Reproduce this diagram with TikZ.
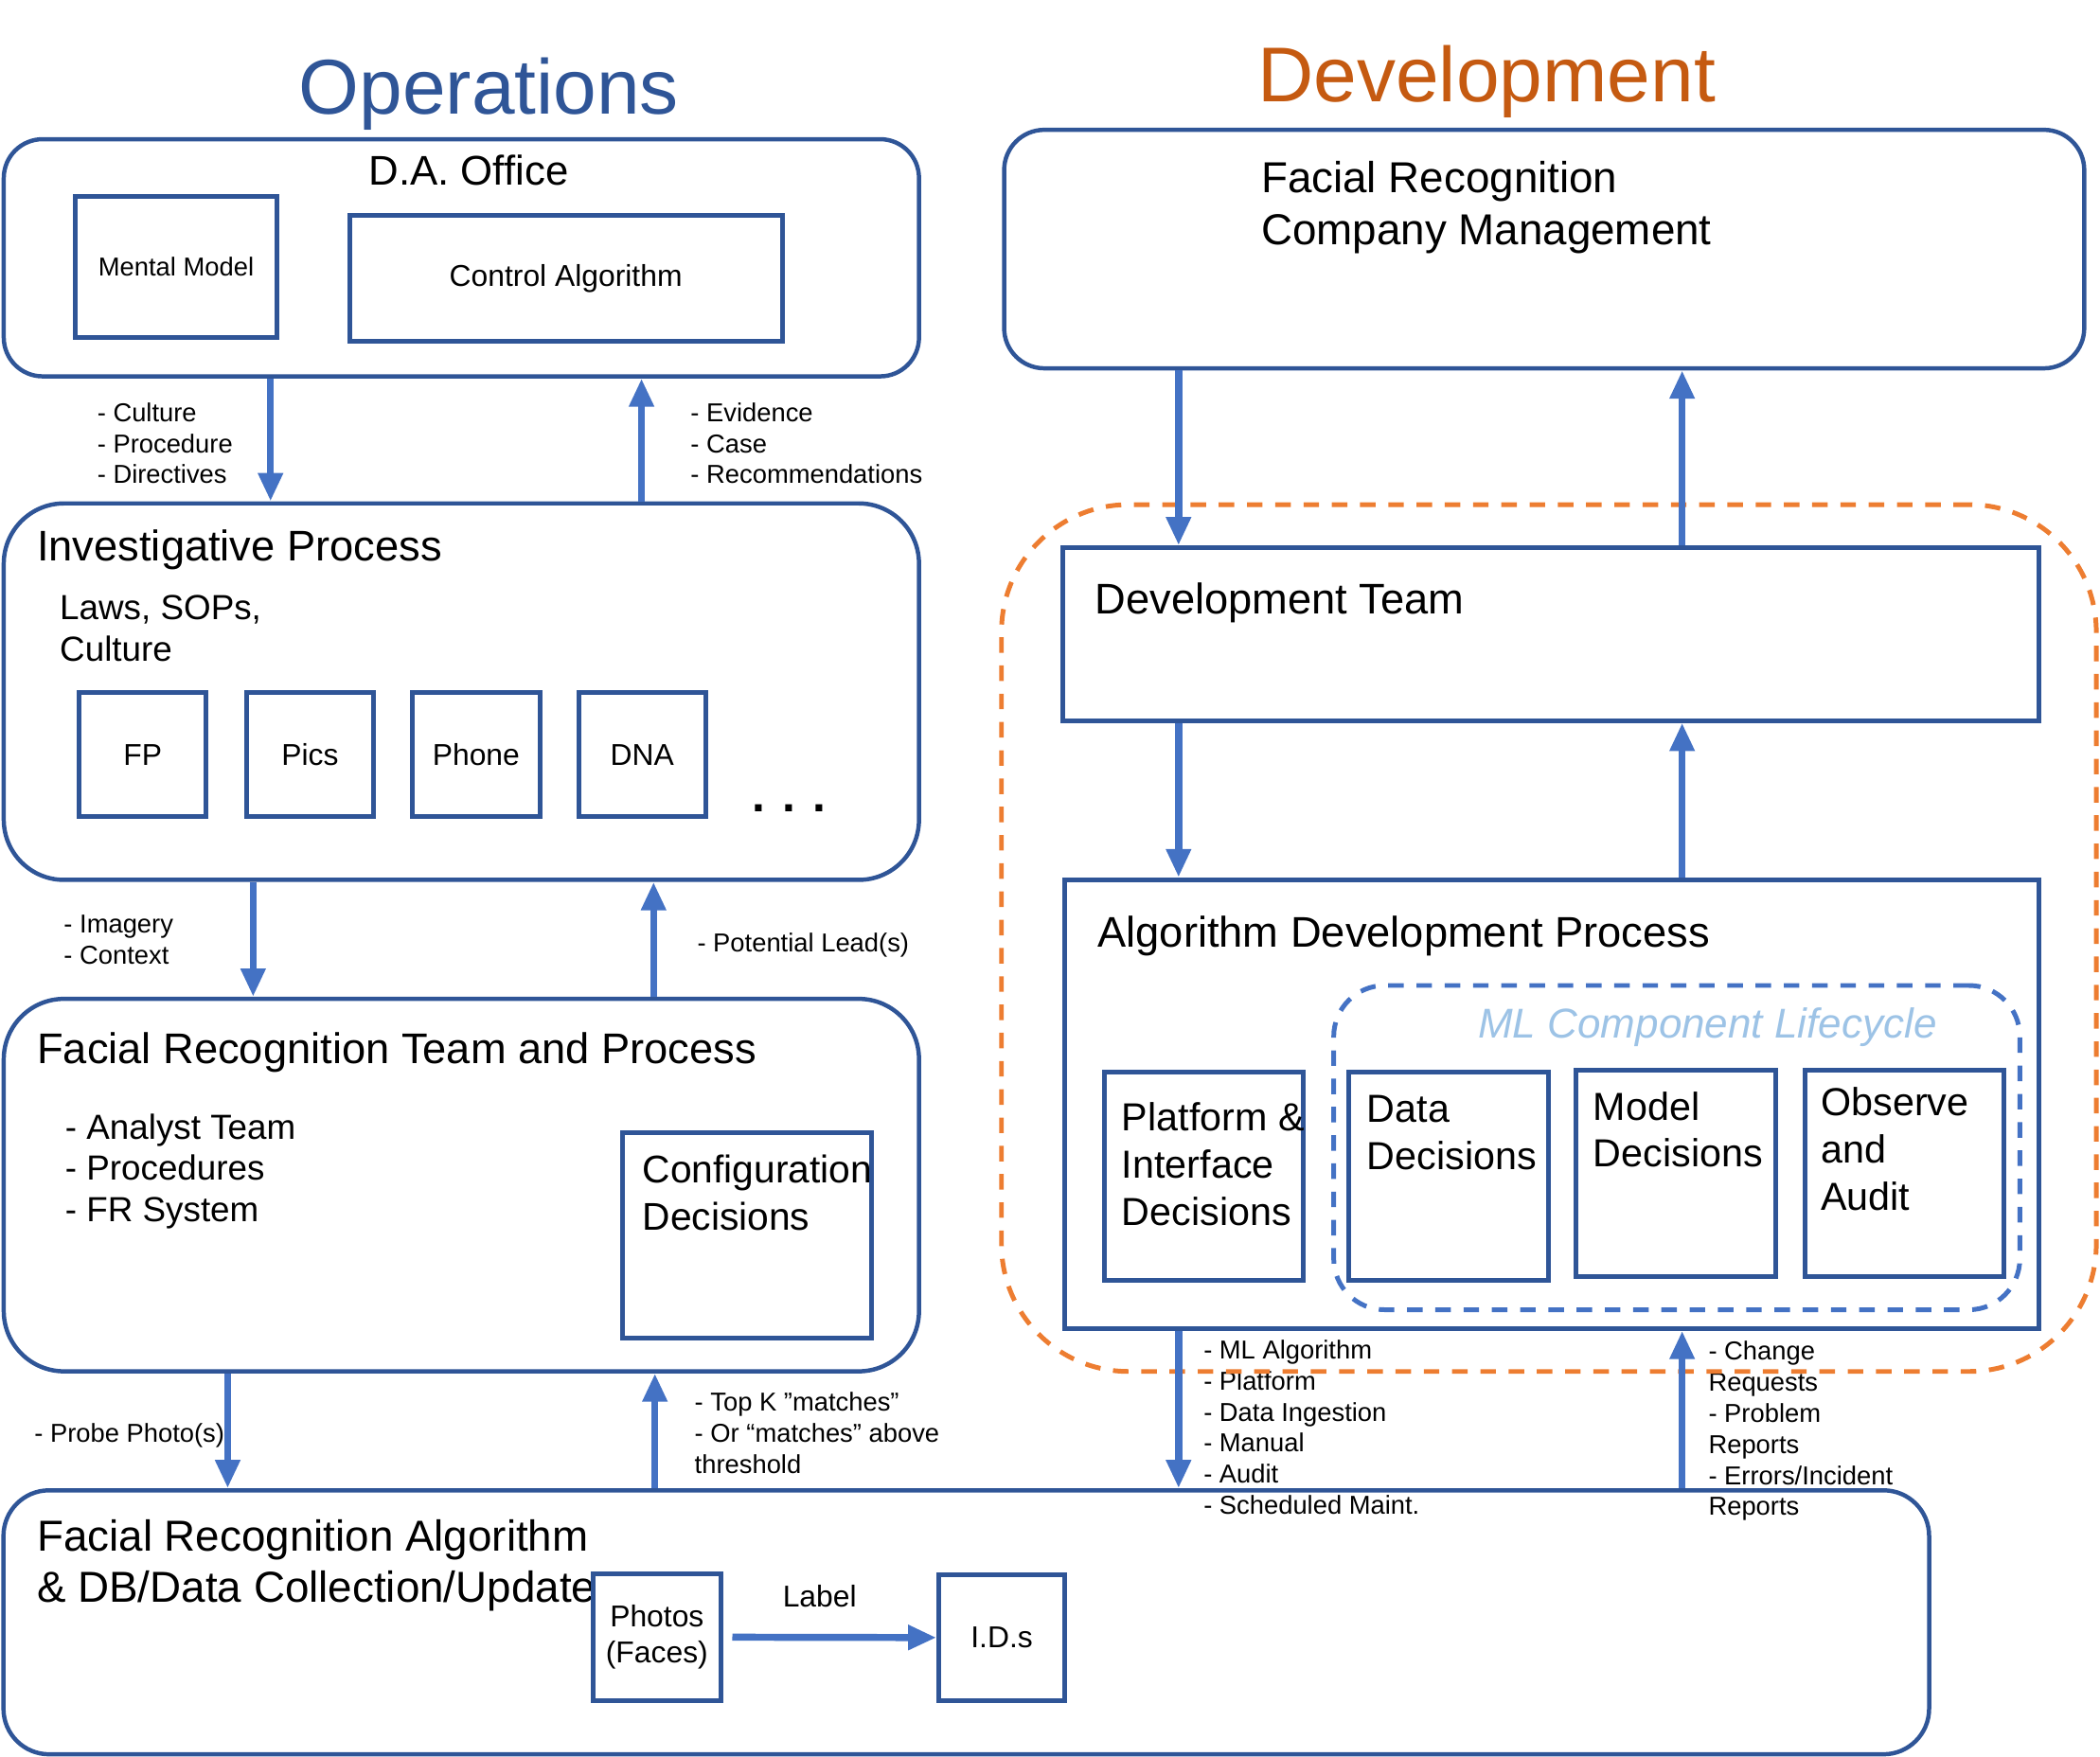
\documentclass[tikz,border=0pt]{standalone}
\usepackage{fontspec}
\setmainfont{Liberation Sans}
\usetikzlibrary{arrows.meta}

\definecolor{boxblue}{HTML}{2F5597}
\definecolor{arrowblue}{HTML}{4472C4}
\definecolor{devorange}{HTML}{C55A11}
\definecolor{dashorange}{HTML}{ED7D31}
\definecolor{lightblue}{HTML}{9DC3E6}

\begin{document}
\begin{tikzpicture}[x=0.01cm, y=-0.01cm,
  panel/.style={draw=boxblue, line width=0.9pt, rounded corners=#1},
  cell/.style={draw=boxblue, line width=1pt, inner sep=0},
  zone/.style={line width=1pt, dash pattern=on 3.3pt off 2.7pt},
  flow/.style={arrowblue, line width=1.5pt, -{Triangle[width=5pt,length=6pt]}},
  title/.style={anchor=base, inner sep=0, font=\fontsize{16.5}{20}\selectfont},
  head/.style={inner sep=0, font=\fontsize{9.1}{10.9}\selectfont, align=left},
  sub/.style={inner sep=0, font=\fontsize{7.4}{8.8}\selectfont, align=left},
  note/.style={inner sep=0, font=\fontsize{5.5}{6.6}\selectfont, align=left},
  tag/.style={inner sep=0, font=\fontsize{6.4}{7.7}\selectfont, align=center},
  lc/.style={inner sep=0, font=\fontsize{8.3}{10}\selectfont, align=left},
]
\useasboundingbox (0,0) rectangle (1568,1312);

\node[title, text=boxblue] (ops) at (365,85) {Operations};
\node[title, text=devorange] (devt) at (1110,76) {Development};

% operations side
\node[panel=0.29cm, minimum width=6.83cm, minimum height=1.77cm] (da) at (344.5,192.5) {};
\node[anchor=base, inner sep=0, font=\fontsize{8.8}{10.5}\selectfont] (daT) at (350,138) {D.A. Office};
\node[cell, minimum width=1.51cm, minimum height=1.05cm, font=\fontsize{5.5}{6.6}\selectfont] (mm) at (131.5,199.5) {Mental Model};
\node[cell, minimum width=3.23cm, minimum height=0.94cm, tag] (ca) at (422.5,208) {Control Algorithm};

\node[panel=0.45cm, minimum width=6.83cm, minimum height=2.81cm] (inv) at (344.5,516.5) {};
\node[head, anchor=base west] (invT) at (27,419) {Investigative Process};
\node[sub, anchor=north west] (laws) at (44,444) {Laws, SOPs,\\Culture};
\node[cell, minimum width=0.95cm, minimum height=0.93cm, tag] (fp) at (106.5,563.5) {FP};
\node[cell, minimum width=0.95cm, minimum height=0.93cm, tag] (pics) at (231.5,563.5) {Pics};
\node[cell, minimum width=0.95cm, minimum height=0.93cm, tag] (phone) at (355.5,563.5) {Phone};
\node[cell, minimum width=0.95cm, minimum height=0.93cm, tag] (dna) at (479.5,563.5) {DNA};
\node[anchor=base, inner sep=0, font=\fontsize{10}{12}\selectfont\bfseries] (more) at (589,606) {.\hspace{3.6pt}.\hspace{3.6pt}.};

\node[panel=0.45cm, minimum width=6.83cm, minimum height=2.78cm] (frt) at (344.5,885) {};
\node[head, anchor=base west] (frtT) at (27,794.5) {Facial Recognition Team and Process};
\node[sub, anchor=north west] (team) at (48,831) {- Analyst Team\\- Procedures\\- FR System};
\node[cell, minimum width=1.86cm, minimum height=1.53cm] (cfg) at (558,922.5) {};
\node[inner sep=0, font=\fontsize{8.2}{10}\selectfont, align=left, anchor=north west] (cfgT) at (479,862) {Configuration\\Decisions};

\node[panel=0.34cm, minimum width=14.37cm, minimum height=1.97cm] (fra) at (721.5,1211.5) {};
\node[head, anchor=north west, font=\fontsize{9.2}{10.8}\selectfont] (fraT) at (27,1134.5) {Facial Recognition Algorithm\\\& DB/Data Collection/Update};
\node[cell, minimum width=0.95cm, minimum height=0.95cm, tag] (ph) at (490.5,1222.5) {Photos\\(Faces)};
\node[cell, minimum width=0.94cm, minimum height=0.94cm, tag] (ids) at (748,1223) {I.D.s};
\node[tag, anchor=base] (lbl) at (612,1200) {Label};

\node[note, anchor=north west] (dirs) at (72,300) {- Culture\\- Procedure\\- Directives};
\node[note, anchor=north west] (evid) at (515,300) {- Evidence\\- Case\\- Recommendations};
\node[note, anchor=north west] (img) at (47,683) {- Imagery\\- Context};
\node[note, anchor=base west] (lead) at (520,711) {- Potential Lead(s)};
\node[note, anchor=base west] (probe) at (25,1077) {- Probe Photo(s)};
\node[note, anchor=north west] (topk) at (518,1039) {- Top K ”matches”\\- Or “matches” above\\threshold};

% development side
\node[panel=0.3cm, minimum width=8.06cm, minimum height=1.78cm] (mgmt) at (1153,186) {};
\node[head, anchor=north west, font=\fontsize{9.2}{11.1}\selectfont] (mgmtT) at (941,119.5) {Facial Recognition\\Company Management};

\node[cell, minimum width=7.28cm, minimum height=1.29cm] (devteam) at (1158,473.5) {};
\node[head, anchor=base west] (devteamT) at (817,458.5) {Development Team};

\node[cell, minimum width=7.27cm, minimum height=3.35cm] (adp) at (1158.5,824.5) {};
\node[head, anchor=base west] (adpT) at (819,707.5) {Algorithm Development Process};
\node[draw=arrowblue, zone, rounded corners=0.38cm, minimum width=5.12cm, minimum height=2.42cm] (mlc) at (1252,857) {};
\node[anchor=base, inner sep=0, font=\fontsize{8.85}{10.6}\selectfont\itshape, text=lightblue] (mlcT) at (1275,775) {ML Component Lifecycle};

\node[cell, minimum width=1.48cm, minimum height=1.55cm] (plat) at (899,878.5) {};
\node[lc, anchor=north west] (platT) at (837,822.6) {Platform \&\\Interface\\Decisions};
\node[cell, minimum width=1.49cm, minimum height=1.55cm] (data) at (1081.5,878.5) {};
\node[lc, anchor=north west] (dataT) at (1020,817.6) {Data\\Decisions};
\node[cell, minimum width=1.49cm, minimum height=1.54cm] (model) at (1251.5,876) {};
\node[lc, anchor=north west] (modelT) at (1189,814.6) {Model\\Decisions};
\node[cell, minimum width=1.48cm, minimum height=1.54cm] (obs) at (1422,876) {};
\node[lc, anchor=north west] (obsT) at (1359,811.6) {Observe\\and\\Audit};

\node[note, anchor=north west] (rel) at (898,1000) {- ML Algorithm\\- Platform\\- Data Ingestion\\- Manual\\- Audit\\- Scheduled Maint.};
\node[note, anchor=north west] (fb) at (1275,1001) {- Change\\Requests\\- Problem\\Reports\\- Errors/Incident\\Reports};

\node[draw=dashorange, zone, rounded corners=0.95cm, minimum width=8.17cm, minimum height=6.47cm] (devzone) at (1156.5,700.5) {};

\draw[flow] (da.south -| 202,0) -- (inv.north -| 202,0);
\draw[flow] (inv.north -| 479,0) -- (da.south -| 479,0);
\draw[flow] (inv.south -| 189,0) -- (frt.north -| 189,0);
\draw[flow] (frt.north -| 488,0) -- (inv.south -| 488,0);
\draw[flow] (frt.south -| 170,0) -- (fra.north -| 170,0);
\draw[flow] (fra.north -| 489,0) -- (frt.south -| 489,0);
\draw[flow, shorten <=2pt] (ph) -- (ids);

\draw[flow] (mgmt.south -| 880,0) -- (devteam.north -| 880,0);
\draw[flow] (devteam.north -| 1256,0) -- (mgmt.south -| 1256,0);
\draw[flow] (devteam.south -| 880,0) -- (adp.north -| 880,0);
\draw[flow] (adp.north -| 1256,0) -- (devteam.south -| 1256,0);
\draw[flow] (adp.south -| 880,0) -- (fra.north -| 880,0);
\draw[flow] (fra.north -| 1256,0) -- (adp.south -| 1256,0);

\end{tikzpicture}
\end{document}
